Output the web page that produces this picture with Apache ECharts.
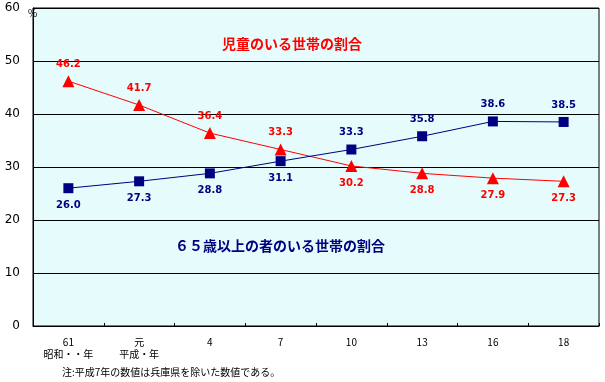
<!DOCTYPE html>
<html><head><meta charset="utf-8">
<script src="https://cdn.jsdelivr.net/npm/echarts@6/dist/echarts.min.js"></script>
<style>html,body{margin:0;padding:0;background:#fff}#c{width:605px;height:382px}</style>
</head><body><div id="c"></div>
<script>
const categories = ['61\n昭和・・年', '元\n平成・年', '4', '7', '10', '13', '16', '18'];
const childValues = [46.2, 41.7, 36.4, 33.3, 30.2, 28.8, 27.9, 27.3];
const elderValues = [26.0, 27.3, 28.8, 31.1, 33.3, 35.8, 38.6, 38.5];
const childLabelPos = ['top','top','top','top','bottom','bottom','bottom','bottom'];
const elderLabelPos = ['bottom','bottom','bottom','bottom','top','top','top','top'];
const yTicks = [0, 10, 20, 30, 40, 50, 60];

const chart = echarts.init(document.getElementById('c'), null, {renderer: 'canvas'});
const font = '"Noto Sans CJK JP", "DejaVu Sans", sans-serif';
function mk(vals, pos) {
  return vals.map((v, i) => ({value: v, label: {position: pos[i]}}));
}
chart.setOption({
  animation: false,
  textStyle: {fontFamily: font},
  grid: {left: 33, right: 6, top: 8, bottom: 56, show: true, backgroundColor: '#e6fcfc', borderColor: '#000', borderWidth: 1},
  xAxis: {
    type: 'category', data: categories, boundaryGap: true,
    axisLine: {lineStyle: {color: '#000'}},
    axisTick: {show: true, inside: true, length: 3, lineStyle: {color: '#000'}},
    axisLabel: {color: '#000', fontSize: 10, lineHeight: 12, margin: 10, fontFamily: font}
  },
  yAxis: {
    type: 'value', min: 0, max: 60, interval: 10,
    name: '%', nameLocation: 'end', nameGap: -10,
    nameTextStyle: {color: '#000', fontSize: 10, align: 'left', padding: [0, 0, 0, -5]},
    axisLine: {show: true, lineStyle: {color: '#000'}},
    axisTick: {show: false},
    axisLabel: {color: '#000', fontSize: 12, margin: 13, fontFamily: '"DejaVu Sans", sans-serif',
      formatter: v => yTicks.includes(v) ? String(v) : ''},
    splitLine: {show: true, lineStyle: {color: '#000', width: 1}}
  },
  series: [
    {
      name: '児童のいる世帯の割合', type: 'line', data: mk(childValues, childLabelPos),
      symbol: 'triangle', symbolSize: 12,
      lineStyle: {color: '#ff0000', width: 1}, itemStyle: {color: '#ff0000'},
      label: {show: true, color: '#ff0000', fontSize: 10, fontWeight: 'bold', distance: 6,
        formatter: p => p.value.toFixed(1), fontFamily: '"DejaVu Sans", sans-serif'}
    },
    {
      name: '65歳以上の者のいる世帯の割合', type: 'line', data: mk(elderValues, elderLabelPos),
      symbol: 'rect', symbolSize: 10,
      lineStyle: {color: '#000080', width: 1}, itemStyle: {color: '#000080'},
      label: {show: true, color: '#000080', fontSize: 10, fontWeight: 'bold', distance: 7,
        formatter: p => p.value.toFixed(1), fontFamily: '"DejaVu Sans", sans-serif'}
    }
  ],
  graphic: [
    {type: 'text', left: 222, top: 37, style: {text: '児童のいる世帯の割合', fill: '#ff0000', font: 'bold 14px "Noto Sans CJK JP"'}},
    {type: 'text', left: 175, top: 239, style: {text: '６５歳以上の者のいる世帯の割合', fill: '#000080', font: 'bold 14px "Noto Sans CJK JP"'}},
    {type: 'text', left: 62, top: 367, style: {text: '注:平成7年の数値は兵庫県を除いた数値である。', fill: '#000', font: '10px "Noto Sans CJK JP"'}}
  ]
});
</script></body></html>
